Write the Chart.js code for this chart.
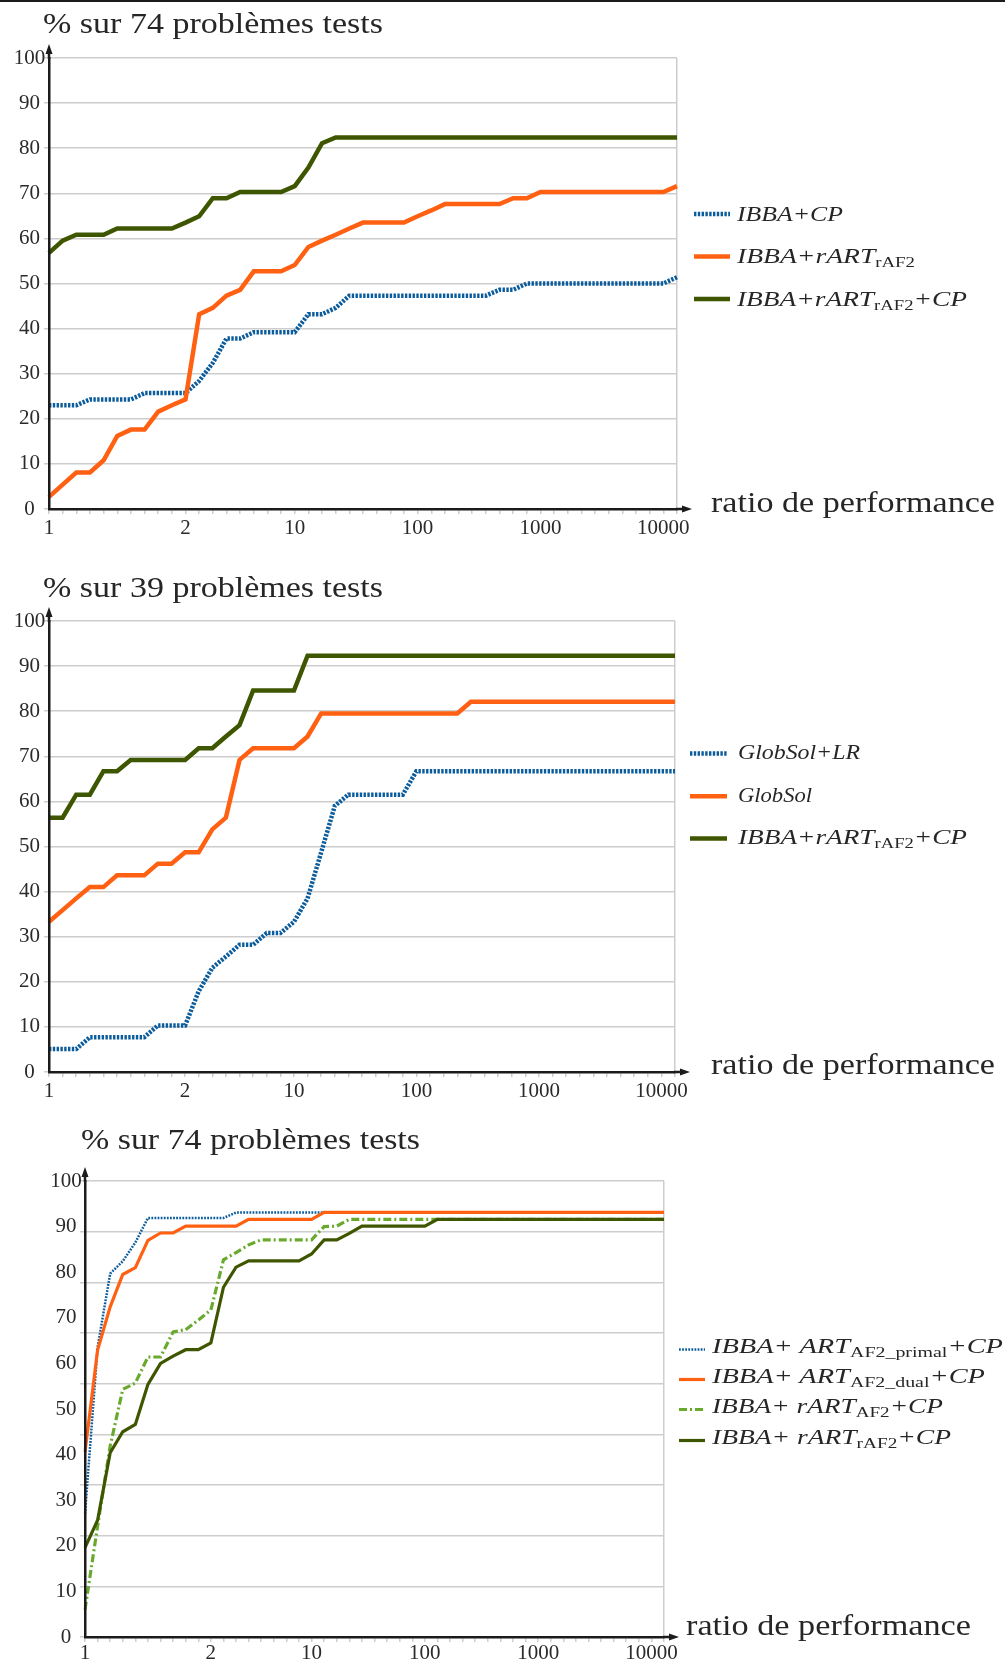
<!DOCTYPE html>
<html>
<head>
  <meta charset="UTF-8">
  <title>Profils de performance</title>
  <script src="https://cdn.jsdelivr.net/npm/chart.js"></script>
  <style>
    body { margin: 0; background: #fff; }
    #page { position: relative; width: 1005px; height: 1664px; overflow: hidden; }
    #topline { position: absolute; left: 0; top: 0; width: 1005px; height: 2px; background: #1b1b1b; }
    .box { position: absolute; left: 0; width: 1005px; }
    .lbl { position: absolute; white-space: nowrap; font-family: 'Liberation Serif', serif;
           color: #262626; line-height: 1; transform-origin: 0 0; }
    .lbl.it { font-style: italic; }
    .lbl sub { font-style: normal; line-height: 1; }
  </style>
</head>
<body>
<div id="page">
  <div id="topline"></div>
  <div class="box" style="top:0;height:560px"><canvas id="c1"></canvas></div>
  <div class="box" style="top:563px;height:560px"><canvas id="c2"></canvas></div>
  <div class="box" style="top:1120px;height:544px"><canvas id="c3"></canvas></div>
</div>
<script>
  // ratio de performance (category axis, as in the original sheet)
  const xLabels = ['1','1.1','1.2','1.3','1.4','1.5','1.6','1.7','1.8','1.9','2',
    '3','4','5','6','7','8','9','10',
    '20','30','40','50','60','70','80','90','100',
    '200','300','400','500','600','700','800','900','1000',
    '2000','3000','4000','5000','6000','7000','8000','9000','10000','20000'];
  const shownLabels = ['1','2','10','100','1000','10000'];

  // chart 1 : % sur 74 problemes tests
  const c1Blue = [23.0, 23.0, 23.0, 24.3, 24.3, 24.3, 24.3, 25.7, 25.7, 25.7,
    25.7, 28.4, 32.4, 37.8, 37.8, 39.2, 39.2, 39.2, 39.2, 43.2,
    43.2, 44.6, 47.3, 47.3, 47.3, 47.3, 47.3, 47.3, 47.3, 47.3,
    47.3, 47.3, 47.3, 48.6, 48.6, 50.0, 50.0, 50.0, 50.0, 50.0,
    50.0, 50.0, 50.0, 50.0, 50.0, 50.0, 51.4];
  const c1Orange = [2.7, 5.4, 8.1, 8.1, 10.8, 16.2, 17.6, 17.6, 21.6, 23.0,
    24.3, 43.2, 44.6, 47.3, 48.6, 52.7, 52.7, 52.7, 54.1, 58.1,
    59.5, 60.8, 62.2, 63.5, 63.5, 63.5, 63.5, 64.9, 66.2, 67.6,
    67.6, 67.6, 67.6, 67.6, 68.9, 68.9, 70.3, 70.3, 70.3, 70.3,
    70.3, 70.3, 70.3, 70.3, 70.3, 70.3, 71.6];
  const c1Green = [56.8, 59.5, 60.8, 60.8, 60.8, 62.2, 62.2, 62.2, 62.2, 62.2,
    63.5, 64.9, 68.9, 68.9, 70.3, 70.3, 70.3, 70.3, 71.6, 75.7,
    81.1, 82.4, 82.4, 82.4, 82.4, 82.4, 82.4, 82.4, 82.4, 82.4,
    82.4, 82.4, 82.4, 82.4, 82.4, 82.4, 82.4, 82.4, 82.4, 82.4,
    82.4, 82.4, 82.4, 82.4, 82.4, 82.4, 82.4];

  // chart 2 : % sur 39 problemes tests
  const c2Blue = [5.1, 5.1, 5.1, 7.7, 7.7, 7.7, 7.7, 7.7, 10.3, 10.3,
    10.3, 17.9, 23.1, 25.6, 28.2, 28.2, 30.8, 30.8, 33.3, 38.5,
    48.7, 59.0, 61.5, 61.5, 61.5, 61.5, 61.5, 66.7, 66.7, 66.7,
    66.7, 66.7, 66.7, 66.7, 66.7, 66.7, 66.7, 66.7, 66.7, 66.7,
    66.7, 66.7, 66.7, 66.7, 66.7, 66.7, 66.7];
  const c2Orange = [33.3, 35.9, 38.5, 41.0, 41.0, 43.6, 43.6, 43.6, 46.2, 46.2,
    48.7, 48.7, 53.8, 56.4, 69.2, 71.8, 71.8, 71.8, 71.8, 74.4,
    79.5, 79.5, 79.5, 79.5, 79.5, 79.5, 79.5, 79.5, 79.5, 79.5,
    79.5, 82.1, 82.1, 82.1, 82.1, 82.1, 82.1, 82.1, 82.1, 82.1,
    82.1, 82.1, 82.1, 82.1, 82.1, 82.1, 82.1];
  const c2Green = [56.4, 56.4, 61.5, 61.5, 66.7, 66.7, 69.2, 69.2, 69.2, 69.2,
    69.2, 71.8, 71.8, 74.4, 76.9, 84.6, 84.6, 84.6, 84.6, 92.3,
    92.3, 92.3, 92.3, 92.3, 92.3, 92.3, 92.3, 92.3, 92.3, 92.3,
    92.3, 92.3, 92.3, 92.3, 92.3, 92.3, 92.3, 92.3, 92.3, 92.3,
    92.3, 92.3, 92.3, 92.3, 92.3, 92.3, 92.3];

  // chart 3 : % sur 74 problemes tests (variantes ART)
  const c3Blue = [27.0, 63.5, 79.7, 82.4, 86.5, 91.9, 91.9, 91.9, 91.9, 91.9,
    91.9, 91.9, 93.1, 93.1, 93.1, 93.1, 93.1, 93.1, 93.1, 93.1,
    93.1, 93.1, 93.1, 93.1, 93.1, 93.1, 93.1, 93.1, 93.1, 93.1,
    93.1, 93.1, 93.1, 93.1, 93.1, 93.1, 93.1, 93.1, 93.1, 93.1,
    93.1, 93.1, 93.1, 93.1, 93.1, 93.1, 93.1];
  const c3Orange = [40.6, 62.9, 72.4, 79.5, 81.0, 87.0, 88.6, 88.6, 90.1, 90.1,
    90.1, 90.1, 90.1, 91.6, 91.6, 91.6, 91.6, 91.6, 91.6, 93.1,
    93.1, 93.1, 93.1, 93.1, 93.1, 93.1, 93.1, 93.1, 93.1, 93.1,
    93.1, 93.1, 93.1, 93.1, 93.1, 93.1, 93.1, 93.1, 93.1, 93.1,
    93.1, 93.1, 93.1, 93.1, 93.1, 93.1, 93.1];
  const c3LightGreen = [6.0, 24.3, 41.9, 54.3, 55.7, 61.4, 61.4, 66.9, 67.4, 69.5,
    71.7, 82.7, 84.3, 86.0, 87.1, 87.1, 87.1, 87.1, 87.1, 90.0,
    90.1, 91.6, 91.6, 91.6, 91.6, 91.6, 91.6, 91.6, 91.6, 91.6,
    91.6, 91.6, 91.6, 91.6, 91.6, 91.6, 91.6, 91.6, 91.6, 91.6,
    91.6, 91.6, 91.6, 91.6, 91.6, 91.6, 91.6];
  const c3DarkGreen = [19.6, 25.6, 40.4, 45.0, 46.6, 55.4, 60.0, 61.6, 63.0, 63.0,
    64.5, 76.7, 81.1, 82.5, 82.5, 82.5, 82.5, 82.5, 84.0, 87.1,
    87.1, 88.5, 90.1, 90.1, 90.1, 90.1, 90.1, 90.1, 91.6, 91.6,
    91.6, 91.6, 91.6, 91.6, 91.6, 91.6, 91.6, 91.6, 91.6, 91.6,
    91.6, 91.6, 91.6, 91.6, 91.6, 91.6, 91.6];

  const BLUE = '#0b5c9c', ORANGE = '#ff6012', DGREEN = '#3f5600', LGREEN = '#69aa2e';
  const GRID = '#cdcdcd', AXIS = '#1b1b1b', TEXT = '#2a2a2a';
  const tickFont = { family: "'Liberation Serif', serif", size: 21 };

  // axis arrows (y up, x to the right)
  const axisArrows = {
    id: 'axisArrows',
    afterDraw(chart) {
      const { ctx, chartArea: a } = chart;
      ctx.save();
      ctx.strokeStyle = AXIS;
      ctx.fillStyle = AXIS;
      ctx.lineWidth = 2.5;
      ctx.beginPath();
      ctx.moveTo(a.left, a.top + 1);
      ctx.lineTo(a.left, a.top - 6);
      ctx.moveTo(a.right - 1, a.bottom);
      ctx.lineTo(a.right + 6, a.bottom);
      ctx.stroke();
      ctx.beginPath();
      ctx.moveTo(a.left, a.top - 14);
      ctx.lineTo(a.left - 3.5, a.top - 4);
      ctx.lineTo(a.left + 3.5, a.top - 4);
      ctx.closePath();
      ctx.moveTo(a.right + 15, a.bottom);
      ctx.lineTo(a.right + 5, a.bottom - 3.5);
      ctx.lineTo(a.right + 5, a.bottom + 3.5);
      ctx.closePath();
      ctx.fill();
      ctx.restore();
    }
  };

  // legend line samples, styled from the datasets themselves
  const legendSwatches = {
    id: 'legendSwatches',
    afterDraw(chart, args, opts) {
      const ctx = chart.ctx;
      chart.data.datasets.forEach((ds, i) => {
        ctx.save();
        ctx.strokeStyle = ds.borderColor;
        ctx.lineWidth = ds.borderWidth;
        ctx.setLineDash(ds.borderDash || []);
        ctx.beginPath();
        ctx.moveTo(opts.x0, opts.ys[i]);
        ctx.lineTo(opts.x1, opts.ys[i]);
        ctx.stroke();
        ctx.restore();
      });
    }
  };

  function line(data, color, width, order, dash) {
    return { data, borderColor: color, borderWidth: width, order, borderDash: dash || [],
             yAxisID: 'y', fill: false, pointRadius: 0, tension: 0, borderCapStyle: 'butt' };
  }

  function makeChart(id, geo, datasets, swatches) {
    return new Chart(document.getElementById(id), {
      type: 'line',
      data: { labels: xLabels, datasets },
      options: {
        responsive: true,
        maintainAspectRatio: false,
        animation: false,
        devicePixelRatio: 1,
        events: [],
        layout: { padding: { left: 0, top: geo.padTop, right: geo.padRight, bottom: 0 } },
        plugins: { legend: { display: false }, tooltip: { enabled: false }, legendSwatches: swatches },
        scales: {
          x: {
            type: 'category',
            offset: false,
            grid: {
              color: c => c.index === xLabels.length - 1 ? GRID : 'rgba(0,0,0,0)',
              tickColor: GRID, lineWidth: 1.5, tickLength: 5
            },
            border: { color: AXIS, width: 2.5, z: 1 },
            ticks: {
              autoSkip: false, maxRotation: 0, minRotation: 0, padding: geo.xPad,
              font: tickFont, color: TEXT,
              callback: (v, i) => shownLabels.includes(xLabels[i]) ? xLabels[i] : ''
            },
            afterFit: s => { s.height = geo.xH; s.paddingLeft = 0; s.paddingRight = 0; }
          },
          y: {
            type: 'linear', min: 0, max: 100,
            grid: { display: false, drawTicks: false },
            border: { color: AXIS, width: 2.5, z: 1 },
            ticks: { stepSize: 10, padding: geo.yPad, crossAlign: 'center', font: tickFont, color: TEXT },
            afterFit: s => { s.width = geo.yW; s.paddingTop = 0; s.paddingBottom = 0; }
          },
          yg: {
            type: 'linear', axis: 'y', position: 'left', weight: -5,
            min: 0, max: geo.gridSteps,
            grid: { color: GRID, lineWidth: 1.5, tickLength: 5 },
            border: { display: false },
            ticks: { display: false, stepSize: 1 },
            afterFit: s => { s.width = 0; s.paddingTop = 0; s.paddingBottom = 0; }
          }
        }
      },
      plugins: [axisArrows, legendSwatches]
    });
  }

  makeChart('c1', { padTop: 58, padRight: 328, yW: 49, xH: 51, xPad: 1.5, yPad: 3.75, gridSteps: 10 }, [
    line(c1Blue, BLUE, 4.5, 3, [2.4, 1.4]),
    line(c1Orange, ORANGE, 4.5, 2),
    line(c1Green, DGREEN, 4.5, 1)
  ], { x0: 694, x1: 730, ys: [214, 256.5, 299] });

  makeChart('c2', { padTop: 58, padRight: 330, yW: 49, xH: 51, xPad: 1.5, yPad: 3.75, gridSteps: 10 }, [
    line(c2Blue, BLUE, 4.5, 3, [2.4, 1.4]),
    line(c2Orange, ORANGE, 4.5, 2),
    line(c2Green, DGREEN, 4.5, 1)
  ], { x0: 690, x1: 727, ys: [190.5, 233.2, 275.5] });

  // this panel's grid has 9 bands while its labels go by tens
  makeChart('c3', { padTop: 61, padRight: 341, yW: 85, xH: 27, xPad: -1.5, yPad: 3.25, gridSteps: 9 }, [
    line(c3Blue, BLUE, 2.5, 4, [1.8, 1.3]),
    line(c3Orange, ORANGE, 3.2, 3),
    line(c3LightGreen, LGREEN, 3.2, 2, [8, 3, 2, 3]),
    line(c3DarkGreen, DGREEN, 3.2, 1)
  ], { x0: 679, x1: 705, ys: [229.5, 259.5, 289.5, 320.5] });

  // texts laid over the canvases
  const page = document.getElementById('page');
  function addLabel(parts, left, base, size, width, italic) {
    const el = document.createElement('div');
    el.className = 'lbl' + (italic ? ' it' : '');
    el.style.fontSize = size + 'px';
    el.style.left = left + 'px';
    el.style.top = (base - 0.8375 * size) + 'px';
    el.appendChild(document.createTextNode(parts[0]));
    if (parts[1]) {
      const s = document.createElement('sub');
      s.textContent = parts[1];
      s.style.fontSize = Math.round(size * 0.7) + 'px';
      s.style.verticalAlign = (-0.18 * size) + 'px';
      el.appendChild(s);
    }
    if (parts[2]) el.appendChild(document.createTextNode(parts[2]));
    page.appendChild(el);
    const w = el.getBoundingClientRect().width;
    el.style.transform = 'scaleX(' + (width / w) + ')';
  }

  addLabel(['% sur 74 problèmes tests'], 43, 34, 28.5, 340);
  addLabel(['ratio de performance'], 711, 513, 28.5, 284);
  addLabel(['IBBA+CP'], 737, 221, 22, 106, true);
  addLabel(['IBBA+rART', 'rAF2'], 737, 263, 22, 178, true);
  addLabel(['IBBA+rART', 'rAF2', '+CP'], 737, 306, 22, 230, true);

  addLabel(['% sur 39 problèmes tests'], 43, 598, 28.5, 340);
  addLabel(['ratio de performance'], 711, 1075, 28.5, 284);
  addLabel(['GlobSol+LR'], 738, 759.5, 22, 122, true);
  addLabel(['GlobSol'], 738, 802.5, 22, 74, true);
  addLabel(['IBBA+rART', 'rAF2', '+CP'], 738, 844.5, 22, 229, true);

  addLabel(['% sur 74 problèmes tests'], 81, 1149.5, 28.5, 339);
  addLabel(['ratio de performance'], 686, 1636, 28.5, 285);
  addLabel(['IBBA+ ART', 'AF2_primal', '+CP'], 712, 1353, 20, 291, true);
  addLabel(['IBBA+ ART', 'AF2_dual', '+CP'], 712, 1383, 20, 273, true);
  addLabel(['IBBA+ rART', 'AF2', '+CP'], 712, 1413, 20, 231, true);
  addLabel(['IBBA+ rART', 'rAF2', '+CP'], 712, 1444, 20, 239, true);
</script>
</body>
</html>
